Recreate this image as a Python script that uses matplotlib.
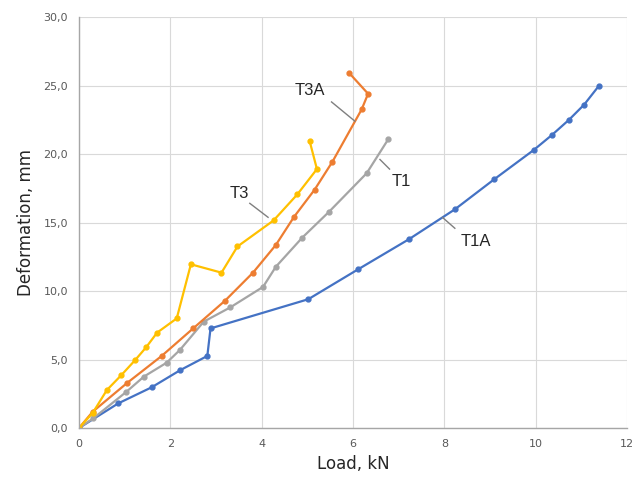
import matplotlib
matplotlib.use("Agg")
import matplotlib.pyplot as plt

# load (kN) vs deformation (mm)
t1a_load = [0, 0.86, 1.59, 2.22, 2.81, 2.88, 5.02, 6.11, 7.22, 8.23, 9.09, 9.96, 10.36, 10.73, 11.06, 11.38]
t1a_def = [0, 1.8, 2.97, 4.23, 5.26, 7.27, 9.4, 11.58, 13.77, 15.96, 18.15, 20.3, 21.4, 22.5, 23.6, 24.96]

t1_load = [0, 0.31, 1.04, 1.42, 1.92, 2.21, 2.73, 3.31, 4.03, 4.31, 4.89, 5.48, 6.30, 6.77]
t1_def = [0, 0.7, 2.65, 3.75, 4.77, 5.7, 7.76, 8.8, 10.3, 11.77, 13.9, 15.8, 18.6, 21.07]

t3a_load = [0, 0.30, 1.05, 1.81, 2.50, 3.20, 3.81, 4.31, 4.71, 5.16, 5.55, 6.19, 6.33, 5.92]
t3a_def = [0, 1.19, 3.28, 5.26, 7.27, 9.3, 11.34, 13.36, 15.42, 17.4, 19.44, 23.26, 24.4, 25.9]

t3_load = [0, 0.30, 0.61, 0.93, 1.23, 1.47, 1.71, 2.14, 2.45, 3.12, 3.47, 4.26, 4.78, 5.21, 5.05]
t3_def = [0, 1.1, 2.77, 3.87, 4.96, 5.89, 6.96, 8.0, 11.95, 11.34, 13.25, 15.15, 17.05, 18.9, 20.95]

x_ticks = [0, 2, 4, 6, 8, 10, 12]
y_ticks = [0, 5, 10, 15, 20, 25, 30]
y_labels = ["0,0", "5,0", "10,0", "15,0", "20,0", "25,0", "30,0"]

series = [
    ("T1A", t1a_load, t1a_def, "#4472C4"),
    ("T1", t1_load, t1_def, "#A5A5A5"),
    ("T3A", t3a_load, t3a_def, "#ED7D31"),
    ("T3", t3_load, t3_def, "#FFC000"),
]

fig = plt.figure(figsize=(6.34, 4.86), dpi=100)
ax = fig.add_axes([0.1246, 0.1193, 0.8644, 0.8457])

for name, xs, ys, col in series:
    ax.plot(xs, ys, color=col, lw=1.6, marker="o", ms=3.5, mec=col, mfc=col)

ax.set_xlim(0, 12)
ax.set_ylim(0, 30)
ax.set_xticks(x_ticks)
ax.set_xticklabels([str(t) for t in x_ticks])
ax.set_yticks(y_ticks)
ax.set_yticklabels(y_labels)
ax.tick_params(length=0, labelsize=8, labelcolor="#595959", pad=8)
ax.grid(True, color="#D9D9D9", lw=0.8)
ax.set_axisbelow(True)
for s in ["top", "right"]:
    ax.spines[s].set_visible(False)
for s in ["left", "bottom"]:
    ax.spines[s].set_color("#A6A6A6")
    ax.spines[s].set_linewidth(1.0)

ax.set_xlabel("Load, kN", fontsize=12, color="#262626", labelpad=4)
ax.set_ylabel("Deformation, mm", fontsize=12, color="#262626", labelpad=6)

# series labels with leader lines
labels = [
    ("T3A", (6.04, 22.4), (5.05, 24.67), (5.53, 23.8)),
    ("T3", (4.14, 15.38), (3.52, 17.13), (3.74, 16.4)),
    ("T1", (6.59, 19.6), (7.06, 17.98), (6.80, 18.9)),
    ("T1A", (7.96, 15.37), (8.70, 13.6), (8.23, 14.58)),
]
for txt, p_on, p_txt, p_end in labels:
    ax.plot([p_on[0], p_end[0]], [p_on[1], p_end[1]], color="#7F7F7F", lw=1.0)
    ax.text(p_txt[0], p_txt[1], txt, fontsize=12, color="#262626",
            family="Liberation Sans", ha="center", va="center")

fig.savefig("out.png", dpi=100)
